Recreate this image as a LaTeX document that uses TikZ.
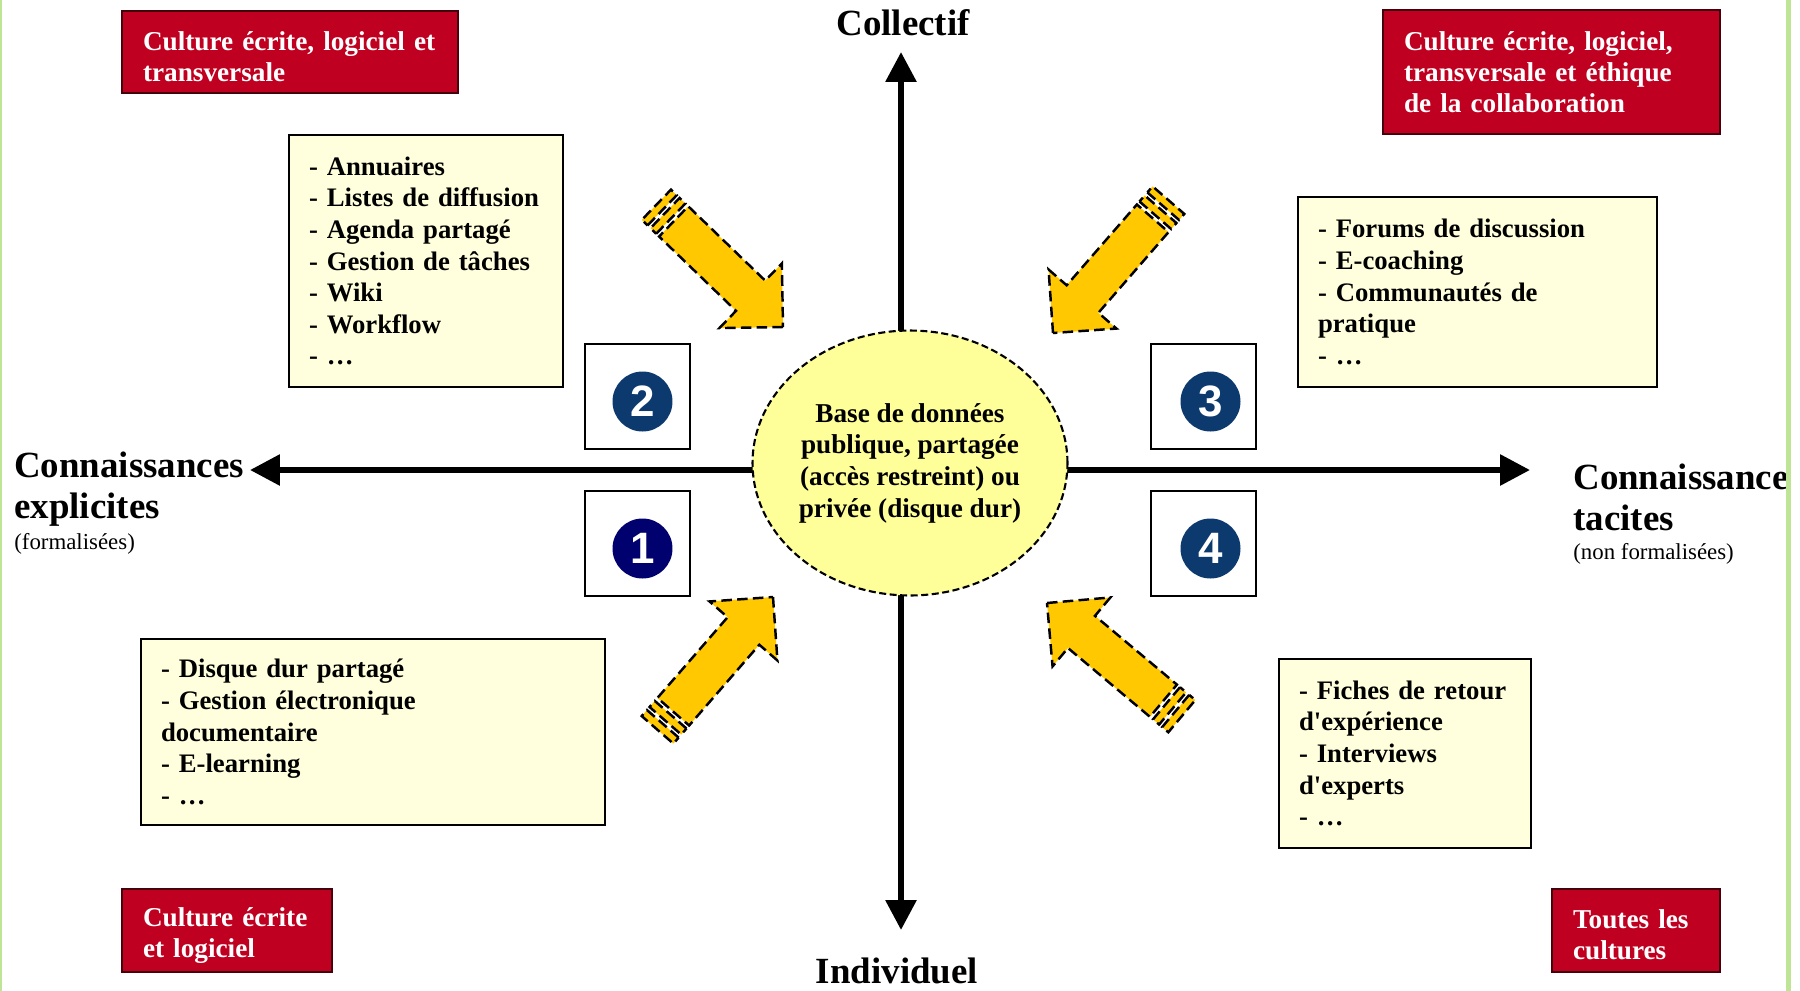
\documentclass[tikz,border=0pt]{standalone}
\usepackage{fontspec}
\setmainfont{Liberation Serif}
\setsansfont{Liberation Sans}
\usetikzlibrary{shapes.geometric,arrows.meta}

\definecolor{culturered}{RGB}{192,0,32}
\definecolor{culturedark}{RGB}{70,0,12}
\definecolor{toolcream}{RGB}{255,255,221}
\definecolor{dbyellow}{RGB}{255,255,153}
\definecolor{arrowgold}{RGB}{255,200,0}
\definecolor{navyA}{RGB}{0,0,110}
\definecolor{navyB}{RGB}{12,58,110}
\definecolor{framegreen}{RGB}{190,228,150}

\tikzset{
  culture/.style={draw=culturedark, fill=culturered, text=white, line width=0.8pt,
    font=\bfseries\fontsize{15.5}{17.6}\selectfont, align=left, inner xsep=0.42cm},
  tools/.style={draw, fill=toolcream, line width=0.8pt,
    font=\bfseries\fontsize{15.2}{18}\selectfont, align=left, inner xsep=0.4cm},
  quadrant/.style={draw, fill=white, minimum size=2.1cm, line width=1pt},
  numdisc/.style={circle, fill=#1, text=white, minimum size=1.2cm, inner sep=0pt,
    font=\sffamily\bfseries\fontsize{25}{25}\selectfont},
  database/.style={ellipse, draw, fill=dbyellow, line width=1.2pt, dash pattern=on 4pt off 2pt,
    minimum width=6.3cm, minimum height=5.3cm, inner sep=0pt, align=center,
    font=\bfseries\fontsize{15.5}{18}\selectfont},
  axis/.style={line width=3.4pt, {Triangle[length=17pt,width=17pt]}-{Triangle[length=17pt,width=17pt]}},
  axislabel/.style={font=\bfseries\fontsize{21}{23.3}\selectfont, align=left, inner sep=0pt},
  sublabel/.style={font=\fontsize{13}{15}\selectfont, inner sep=0pt},
  yarrow/.style={draw, fill=arrowgold, line width=1.4pt, dash pattern=on 6pt off 3pt},
}

% block arrow: tip, angle
\newcommand{\goldarrow}[2]{%
  \begin{scope}[shift={#1}, rotate=#2]
    \draw[yarrow] (0,0) -- (-45,45) -- (-45,21) -- (-152,21) -- (-152,-21) -- (-45,-21) -- (-45,-45) -- cycle;
    \draw[yarrow] (-156,21) rectangle (-164,-21);
    \draw[yarrow] (-168,21) rectangle (-176,-21);
  \end{scope}}
\newcommand{\lowstrut}{\rule{0pt}{16pt}}

\begin{document}
\begin{tikzpicture}[x=0.02cm, y=-0.02cm]
  \useasboundingbox (0,0) rectangle (1800,991);

  \coordinate (explicit-end) at (250,470);
  \coordinate (tacit-end) at (1530,470);
  \coordinate (collective-end) at (901,52);
  \coordinate (individual-end) at (901,930);
  \draw[axis] (explicit-end) -- (tacit-end);
  \draw[axis] (collective-end) -- (individual-end);

  \node[database] (db) at (910,463) {Base de données\\publique, partagée\\(accès restreint) ou\\privée (disque dur)};

  \node[axislabel] (collectif) at (903,23) {Collectif};
  \node[axislabel] (individuel) at (897,971) {Individuel};
  \node[axislabel, anchor=west] (explicit) at (14,489) {Connaissances\\explicites};
  \node[sublabel, anchor=west] (explicit-sub) at (14,544) {(formalisées)};
  \begin{scope}
    \clip (0,0) rectangle (1786,991);
    \node[axislabel, anchor=west] (tacit) at (1573,497.5) {Connaissances\\tacites};
    \node[sublabel, anchor=west] (tacit-sub) at (1573,554) {(non formalisées)};
  \end{scope}

  \node[culture, text width=5.88cm, minimum height=1.64cm] (cult-tl) at (290,52) {\lowstrut Culture écrite, logiciel et\\transversale};
  \node[culture, text width=5.9cm, minimum height=2.48cm] (cult-tr) at (1551.5,72) {Culture écrite, logiciel,\\transversale et éthique\\de la collaboration};
  \node[culture, text width=3.36cm, minimum height=1.66cm] (cult-bl) at (227,930.5) {\lowstrut Culture écrite\\et logiciel};
  \node[culture, text width=2.52cm, minimum height=1.66cm] (cult-br) at (1636,930.5) {\lowstrut Toutes les\\cultures};

  \node[tools, text width=4.68cm, minimum height=5.04cm] (tools2) at (426,261) {- Annuaires\\- Listes de diffusion\\- Agenda partagé\\- Gestion de tâches\\- Wiki\\- Workflow\\- …};
  \node[tools, text width=6.38cm, minimum height=3.8cm] (tools3) at (1477.5,292) {- Forums de discussion\\- E-coaching\\- Communautés de\\pratique\\- …};
  \node[tools, text width=8.48cm, minimum height=3.72cm] (tools1) at (373,732) {- Disque dur partagé\\- Gestion électronique\\documentaire\\- E-learning\\- …};
  \node[tools, text width=4.24cm, minimum height=3.78cm] (tools4) at (1405,753.5) {- Fiches de retour\\d\textquotesingle expérience\\- Interviews\\d\textquotesingle experts\\- …};

  \node[quadrant] (q2) at (637.5,396.5) {};
  \node[quadrant] (q1) at (637.5,543.5) {};
  \node[quadrant] (q3) at (1203.5,396.5) {};
  \node[quadrant] (q4) at (1203.5,543.5) {};
  \node[numdisc=navyA] (n1) at ([shift={(5,5)}]q1) {1};
  \node[numdisc=navyB] (n2) at ([shift={(5,5)}]q2) {2};
  \node[numdisc=navyB] (n3) at ([shift={(7,5)}]q3) {3};
  \node[numdisc=navyB] (n4) at ([shift={(7,5)}]q4) {4};

  \goldarrow{(783,327)}{-44}
  \goldarrow{(1053,333)}{-131}
  \goldarrow{(773,597)}{49}
  \goldarrow{(1047,603)}{140}

  \draw[framegreen, line width=1.3pt] (1.2,0) -- (1.2,991);
  \draw[framegreen, line width=2.7pt] (1788.5,0) -- (1788.5,991);
\end{tikzpicture}
\end{document}
